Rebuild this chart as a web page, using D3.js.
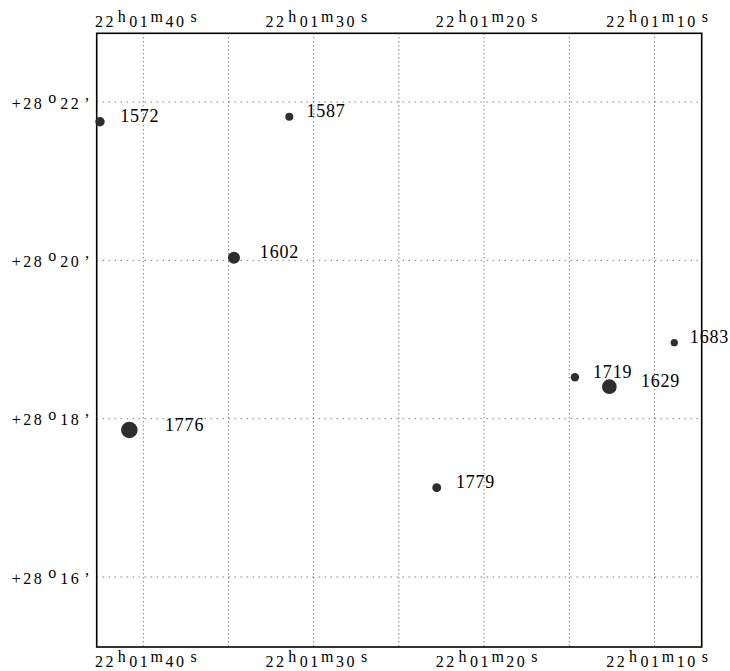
<!DOCTYPE html>
<html>
<head>
<meta charset="utf-8">
<script src="https://cdn.jsdelivr.net/npm/d3@7"></script>
<style>
  html, body { margin: 0; padding: 0; background: #fff; }
  svg text { font-family: "Liberation Serif", "Times New Roman", serif; fill: #000; }
</style>
</head>
<body>
<svg id="chart" width="730" height="671"></svg>
<script>
// ---- data (RA seconds within 22h01m, Dec arcminutes within +28°) ----
const starIds  = ["1572", "1587", "1602", "1776", "1719", "1629", "1683", "1779"];
const starRA   = [42.54, 31.43, 34.68, 40.82, 14.67, 12.65, 8.84, 22.78];
const starDec  = [21.751, 21.814, 20.033, 17.857, 18.523, 18.404, 18.96, 17.128];
const starMag  = [14.0, 14.6, 12.9, 11.0, 14.4, 11.8, 14.9, 14.2];

const raLabelTicks = [40, 30, 20, 10];
const raGridTicks  = [40, 35, 30, 25, 20, 15, 10];
const decTicks     = [22, 20, 18, 16];
const raHour = "22", raMin = "01", decDeg = "+28";

// ---- layout ----
const svg = d3.select("#chart");
const pLeft = 96.7, pRight = 701.7, pTop = 33.3, pBottom = 647;

const x = d3.scaleLinear().domain([42.735, 7.23]).range([pLeft, pRight]);
const y = d3.scaleLinear().domain([15.116, 22.868]).range([pBottom, pTop]);
const r = d3.scaleLinear().domain([11, 15]).range([8.3, 3.5]);

// grid
const grid = svg.append("g");
grid.selectAll("line.v").data(raGridTicks).join("line")
  .attr("class", "v")
  .attr("x1", d => x(d)).attr("x2", d => x(d))
  .attr("y1", pTop).attr("y2", pBottom)
  .attr("stroke", "#444").attr("stroke-width", 1)
  .attr("stroke-dasharray", "1,3");
grid.selectAll("line.h").data(decTicks).join("line")
  .attr("class", "h")
  .attr("x1", pLeft).attr("x2", pRight)
  .attr("y1", d => y(d)).attr("y2", d => y(d))
  .attr("stroke", "#444").attr("stroke-width", 1)
  .attr("stroke-dasharray", "1,5");

// frame
svg.append("rect")
  .attr("x", pLeft).attr("y", pTop)
  .attr("width", pRight - pLeft).attr("height", pBottom - pTop)
  .attr("fill", "none").attr("stroke", "#000").attr("stroke-width", 1.6);

const axisFont = 16, gap = 2.5;

// write a label character by character: parts = [[text, isSuperscript, extraGap], ...]
function spaced(textSel, parts, raise) {
  let raised = false, count = 0;
  parts.forEach(([s, sup, extra]) => {
    [...s].forEach((ch, k) => {
      const ts = textSel.append("tspan").text(ch);
      ts.attr("dx", count === 0 ? 0 : gap + (k === 0 ? extra : 0));
      count++;
      if (sup && !raised) { ts.attr("dy", -raise); raised = true; }
      else if (!sup && raised) { ts.attr("dy", raise); raised = false; }
    });
  });
}

// RA labels (top & bottom)
[27, 667].forEach(by => {
  svg.append("g").selectAll("text").data(raLabelTicks).join("text")
    .attr("x", d => x(d) - 48.3)
    .attr("y", by)
    .attr("font-size", axisFont)
    .each(function(d) {
      spaced(d3.select(this), [
        [raHour, false, 0], ["h", true, 1.8], [raMin, false, 1],
        ["m", true, 0.3], [String(d), false, 0], ["s", true, 4]
      ], 5.5);
    });
});

// Dec labels
svg.append("g").selectAll("text").data(decTicks).join("text")
  .attr("x", 11.7)
  .attr("y", d => y(d) + 6.5)
  .attr("font-size", axisFont)
  .each(function(d) {
    spaced(d3.select(this), [
      [decDeg, false, 0], ["o", true, 4], [String(d), false, 1.5], ["’", false, 3]
    ], 5.5);
  });

// stars
const stars = starIds.map((id, i) => ({ id, ra: starRA[i], dec: starDec[i], mag: starMag[i] }));
const sg = svg.append("g");
sg.selectAll("circle").data(stars).join("circle")
  .attr("cx", d => x(d.ra)).attr("cy", d => y(d.dec))
  .attr("r", d => r(d.mag))
  .attr("fill", "#2e2e2e");
sg.selectAll("text").data(stars).join("text")
  .attr("x", d => x(d.ra) + 4.3 * r(d.mag))
  .attr("y", d => y(d.dec) + 0.5)
  .attr("font-size", 18)
  .attr("letter-spacing", "0.8px")
  .text(d => d.id);
</script>
</body>
</html>
